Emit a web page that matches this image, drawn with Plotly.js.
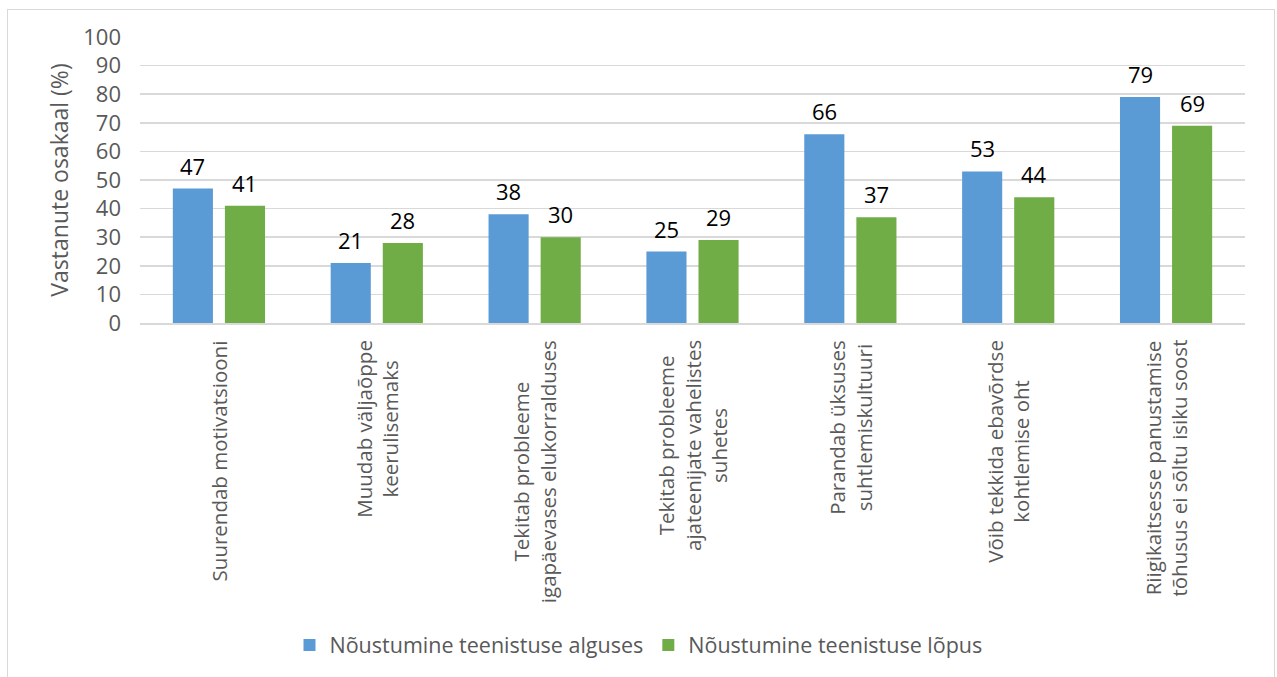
<!DOCTYPE html>
<html>
<head>
<meta charset="utf-8">
<script src="https://cdn.plot.ly/plotly-3.0.1.min.js"></script>
<style>
  html, body { margin: 0; padding: 0; background: #fff; }
  #wrap { position: relative; width: 1277px; height: 677px; }
  #chart { position: absolute; left: 0; top: 0; width: 1277px; height: 677px; }
  #frame { position: absolute; left: 7px; top: 9px; width: 1266px; height: 700px; border: 1.5px solid #d9d9d9; pointer-events: none; }
</style>
</head>
<body>
<div id="wrap">
  <div id="chart"></div>
  <div id="frame"></div>
</div>
<script>
const categories = [
  "Suurendab motivatsiooni",
  "Muudab väljaõppe<br>keerulisemaks",
  "Tekitab probleeme<br>igapäevases elukorralduses",
  "Tekitab probleeme<br>ajateenijate vahelistes<br>suhetes",
  "Parandab üksuses<br>suhtlemiskultuuri",
  "Võib tekkida ebavõrdse<br>kohtlemise oht",
  "Riigikaitsesse panustamise<br>tõhusus ei sõltu isiku soost"
];
const seriesNames = ["Nõustumine teenistuse alguses", "Nõustumine teenistuse lõpus"];
const startValues = [47, 21, 38, 25, 66, 53, 79];
const endValues = [41, 28, 30, 29, 37, 44, 69];
const yTickValues = [0, 10, 20, 30, 40, 50, 60, 70, 80, 90, 100];

const FONT = "Open Sans, Noto Sans, sans-serif";
const blue = "#5B9BD5", green = "#70AD47";

const traces = [
  { type: "bar", name: seriesNames[0], x: categories, y: startValues, marker: { color: blue }, hoverinfo: "y" },
  { type: "bar", name: seriesNames[1], x: categories, y: endValues, marker: { color: green }, hoverinfo: "y" }
];

const annotations = [];
categories.forEach((c, i) => {
  annotations.push({ x: c, y: startValues[i], text: String(startValues[i]), xref: "x", yref: "y",
    showarrow: false, yanchor: "bottom", yshift: 6, xshift: -26, font: { family: FONT, size: 22, color: "#000" } });
  annotations.push({ x: c, y: endValues[i], text: String(endValues[i]), xref: "x", yref: "y",
    showarrow: false, yanchor: "bottom", yshift: 6, xshift: 26, font: { family: FONT, size: 22, color: "#000" } });
  // category label, rotated, lines centred
  annotations.push({ x: c, y: 0, text: c, xref: "x", yref: "y",
    showarrow: false, textangle: -90, align: "center", xanchor: "center", yanchor: "top", yshift: -15,
    font: { family: FONT, size: 20.5, color: "#595959" } });
});

const layout = {
  width: 1277, height: 677,
  margin: { l: 140, r: 32, t: 37, b: 354 },
  paper_bgcolor: "rgba(0,0,0,0)", plot_bgcolor: "#fff",
  font: { family: FONT, color: "#595959", size: 20 },
  barmode: "group", bargap: 0.34, bargroupgap: 0.23,
  showlegend: true,
  legend: {
    orientation: "h", xref: "container", yref: "container",
    x: 0.5, xanchor: "center", y: 1 - 645 / 677, yanchor: "middle",
    font: { family: FONT, size: 21.5, color: "#595959" }, itemwidth: 30, traceorder: "normal"
  },
  xaxis: {
    type: "category", ticks: "", showgrid: false, showticklabels: false,
    showline: true, linecolor: "#d9d9d9", linewidth: 1.5
  },
  yaxis: {
    range: [0, 100], tickvals: yTickValues, ticks: "",
    showgrid: true, gridcolor: "#d9d9d9", gridwidth: 1.5,
    zeroline: false, showline: false,
    tickfont: { family: FONT, size: 22, color: "#595959" }, ticklabelstandoff: 18,
    title: { text: "Vastanute osakaal (%)", font: { family: FONT, size: 23, color: "#595959" }, standoff: 8 }
  },
  annotations: annotations
};

Plotly.newPlot("chart", traces, layout, { displayModeBar: false, staticPlot: true });
</script>
</body>
</html>
